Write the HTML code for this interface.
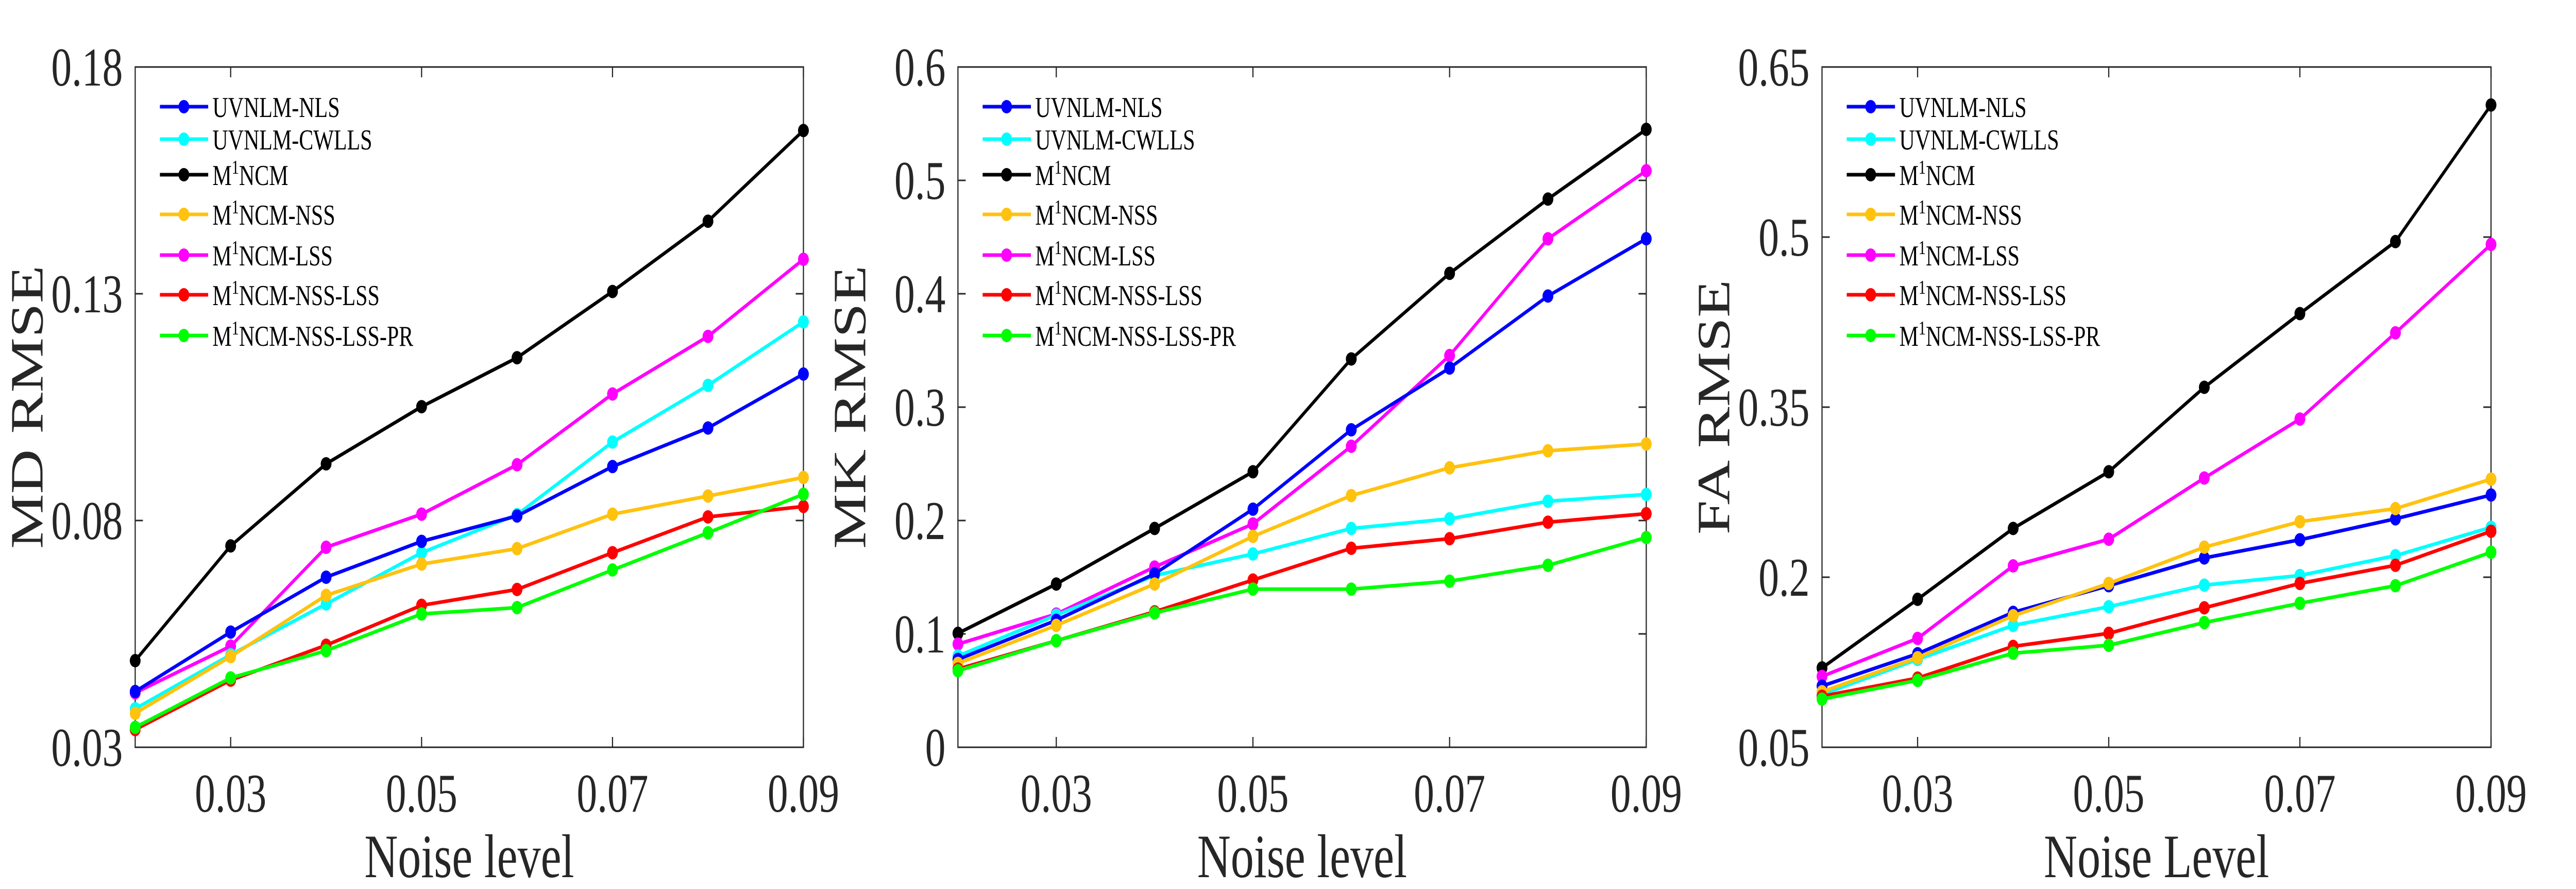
<!DOCTYPE html>
<html><head><meta charset="utf-8">
<style>
html,body{margin:0;padding:0;background:#fff;overflow:hidden;width:100%;height:100%;}
svg{display:block;font-family:"Liberation Serif",serif;width:100vw;height:100vh;}
</style></head>
<body>
<svg id="chart" viewBox="0 0 6669 1725" preserveAspectRatio="none" xmlns="http://www.w3.org/2000/svg"></svg>
<script>
const xValues = [0.02,0.03,0.04,0.05,0.06,0.07,0.08,0.09];
const xTicks = [0.03,0.05,0.07,0.09];
const xTickLabels = ["0.03","0.05","0.07","0.09"];
const seriesNames = ["UVNLM-NLS","UVNLM-CWLLS","M1NCM","M1NCM-NSS","M1NCM-LSS","M1NCM-NSS-LSS","M1NCM-NSS-LSS-PR"];
const seriesColors = ["#0000ff","#00ffff","#000000","#ffc20e","#ff00ff","#ff0000","#00ff00"];
const drawOrder = [2,4,1,0,3,5,6];

const mdTicks = [0.03,0.08,0.13,0.18];
const mdTickLabels = ["0.03","0.08","0.13","0.18"];
const mdNLS = [0.0423,0.0554,0.0675,0.0754,0.081,0.0919,0.1004,0.1123];
const mdCWLLS = [0.0385,0.0504,0.0616,0.0729,0.0813,0.0973,0.1098,0.1238];
const mdM1 = [0.0491,0.0744,0.0925,0.1051,0.1159,0.1305,0.146,0.166];
const mdNSS = [0.0375,0.05,0.0635,0.0704,0.0738,0.0814,0.0854,0.0895];
const mdLSS = [0.042,0.0523,0.0741,0.0814,0.0923,0.1079,0.1206,0.1376];
const mdNSSLSS = [0.0339,0.0448,0.0525,0.0613,0.0648,0.0729,0.0808,0.0831];
const mdPR = [0.0344,0.0453,0.0513,0.0594,0.0608,0.0691,0.0773,0.0858];

const mkTicks = [0,0.1,0.2,0.3,0.4,0.5,0.6];
const mkTickLabels = ["0","0.1","0.2","0.3","0.4","0.5","0.6"];
const mkNLS = [0.0775,0.112,0.153,0.21,0.28,0.3345,0.398,0.4485];
const mkCWLLS = [0.0805,0.1165,0.1515,0.1705,0.193,0.2015,0.217,0.223];
const mkM1 = [0.1005,0.144,0.193,0.243,0.3425,0.418,0.4835,0.545];
const mkNSS = [0.074,0.1075,0.144,0.186,0.222,0.2465,0.2615,0.2675];
const mkLSS = [0.091,0.1175,0.159,0.197,0.2655,0.3455,0.4485,0.5085];
const mkNSSLSS = [0.069,0.094,0.1195,0.1475,0.1755,0.184,0.1985,0.206];
const mkPR = [0.0675,0.094,0.1185,0.1395,0.1395,0.1465,0.1605,0.185];

const faTicks = [0.05,0.2,0.35,0.5,0.65];
const faTickLabels = ["0.05","0.2","0.35","0.5","0.65"];
const faNLS = [0.104,0.1325,0.169,0.1925,0.217,0.233,0.2515,0.2725];
const faCWLLS = [0.0965,0.1275,0.1575,0.174,0.193,0.2015,0.219,0.244];
const faM1 = [0.12,0.1805,0.243,0.293,0.3675,0.4325,0.496,0.6165];
const faNSS = [0.099,0.129,0.166,0.1945,0.2265,0.249,0.2605,0.2865];
const faLSS = [0.1125,0.146,0.21,0.2335,0.2875,0.3395,0.4155,0.4935];
const faNSSLSS = [0.095,0.111,0.139,0.1505,0.173,0.1945,0.2105,0.2405];
const faPR = [0.0925,0.109,0.133,0.14,0.16,0.177,0.1925,0.222];

const NS = "http://www.w3.org/2000/svg";
const svg = document.getElementById('chart');
function mk(tag, attrs, parent){
  const e = document.createElementNS(NS, tag);
  for (const k in attrs) e.setAttribute(k, attrs[k]);
  (parent||svg).appendChild(e);
  return e;
}
function addLabel(parent, name, x, y){
  const t = mk('text', {x:x, y:y, 'font-size':56, fill:'#000'}, parent);
  if (name.startsWith('M1')) {
    t.appendChild(document.createTextNode('M'));
    const s = document.createElementNS(NS,'tspan');
    s.setAttribute('dy','-22'); s.setAttribute('font-size','38');
    s.textContent = '1';
    t.appendChild(s);
    const r = document.createElementNS(NS,'tspan');
    r.setAttribute('dy','22');
    r.textContent = name.slice(2);
    t.appendChild(r);
  } else t.textContent = name;
  return t;
}

const panels = [
  {id:'md', left:350, right:2080, ymin:0.03, ymax:0.18, ticks:mdTicks, tickLabels:mdTickLabels, title:'MD RMSE', xtitle:'Noise level',
   data:[mdNLS,mdCWLLS,mdM1,mdNSS,mdLSS,mdNSSLSS,mdPR]},
  {id:'mk', left:2480, right:4262, ymin:0, ymax:0.6, ticks:mkTicks, tickLabels:mkTickLabels, title:'MK RMSE', xtitle:'Noise level',
   data:[mkNLS,mkCWLLS,mkM1,mkNSS,mkLSS,mkNSSLSS,mkPR]},
  {id:'fa', left:4717, right:6449, ymin:0.05, ymax:0.65, ticks:faTicks, tickLabels:faTickLabels, title:'FA RMSE', xtitle:'Noise Level',
   data:[faNLS,faCWLLS,faM1,faNSS,faLSS,faNSSLSS,faPR]}
];
const TOP = 130, BOT = 1450;

panels.forEach(p => {
  const g = mk('g', {});
  
  
  const X = v => p.left + (v - 0.02) / (0.09 - 0.02) * (p.right - p.left);
  const Y = v => BOT - (v - p.ymin) / (p.ymax - p.ymin) * (BOT - TOP);

  xTicks.forEach((t, i) => {
    const x = X(t);
    const a = mk('line', {x1:x, x2:x, y1:BOT, y2:BOT-20, stroke:'#262626','stroke-width':3}, g);
     
    mk('line', {x1:x, x2:x, y1:TOP, y2:TOP+20, stroke:'#262626','stroke-width':3}, g);
    const tl = mk('text', {x:x, y:1575, 'font-size':106, 'text-anchor':'middle', fill:'#262626'}, g);
     
    tl.textContent = xTickLabels[i];
  });
  p.ticks.forEach((t, i) => {
    const y = Y(t);
    const a = mk('line', {x1:p.left, x2:p.left+20, y1:y, y2:y, stroke:'#262626','stroke-width':3}, g);
     
    mk('line', {x1:p.right, x2:p.right-20, y1:y, y2:y, stroke:'#262626','stroke-width':3}, g);
    const tl = mk('text', {x:p.left-32, y:y+36, 'font-size':106, 'text-anchor':'end', fill:'#262626'}, g);
     
    tl.textContent = p.tickLabels[i];
  });
  const fr = mk('rect', {x:p.left, y:TOP, width:p.right-p.left, height:BOT-TOP, fill:'none', stroke:'#262626','stroke-width':3}, g);
   

  const xt = mk('text', {x:(p.left+p.right)/2, y:1702, 'font-size':120, 'text-anchor':'middle', fill:'#262626'}, g);
   
  xt.textContent = p.xtitle;
  const cy = (TOP+BOT)/2, cx = p.left-240;
  const yt = mk('text', {x:cx, y:cy, 'font-size':120, 'text-anchor':'middle', fill:'#262626', transform:`rotate(-90 ${cx} ${cy})`}, g);
   
  yt.textContent = p.title;

  drawOrder.forEach(si => {
    const vals = p.data[si];
    const sg = mk('g', {}, g);
    
    
    const pts = vals.map((v, i) => X(xValues[i]) + ',' + Y(v)).join(' ');
    const pl = mk('polyline', {points:pts, fill:'none', stroke:seriesColors[si], 'stroke-width':7, 'stroke-linejoin':'round'}, sg);
     
    vals.forEach((v, i) => {
      const c = mk('ellipse', {cx:X(xValues[i]), cy:Y(v), rx:14, ry:13, fill:seriesColors[si]}, sg);
       
    });
  });

  const lg = mk('g', {}, g);
   
  const rowY = [207,270,339,416,495,572,651];
  seriesNames.forEach((n, i) => {
    const eg = mk('g', {}, lg);
     
    const x0 = p.left + 64, y = rowY[i];
    mk('line', {x1:x0, x2:x0+125, y1:y, y2:y, stroke:seriesColors[i], 'stroke-width':7}, eg);
    mk('ellipse', {cx:x0+62, cy:y, rx:14, ry:13, fill:seriesColors[i]}, eg);
    addLabel(eg, n, p.left+200, y+20);
  });
});
</script>
</body></html>
